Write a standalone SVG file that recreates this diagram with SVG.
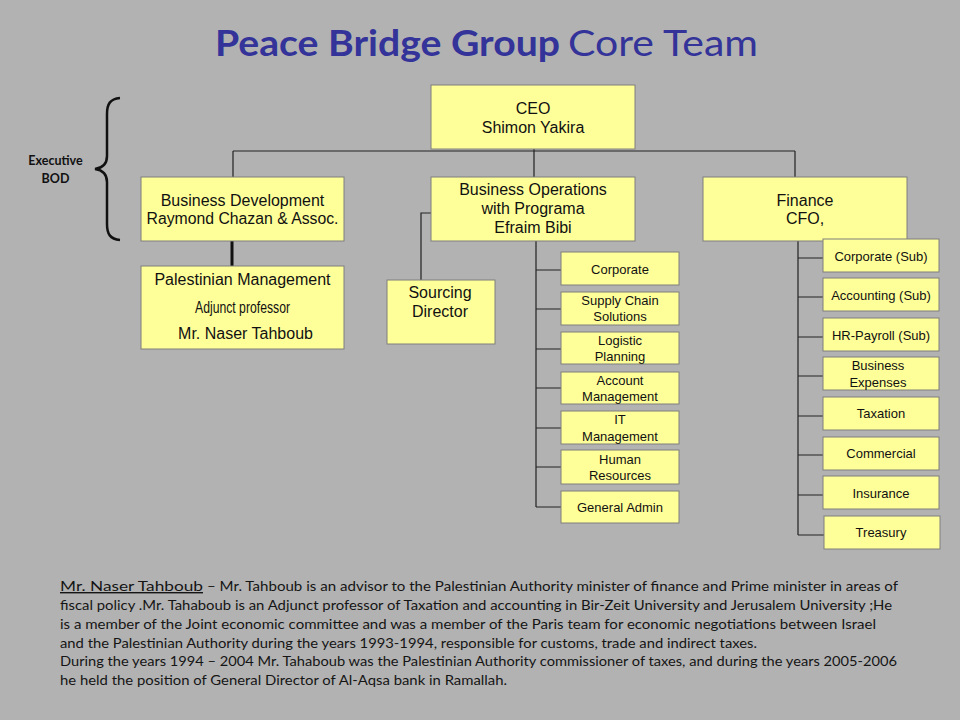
<svg xmlns="http://www.w3.org/2000/svg" width="960" height="720" viewBox="0 0 960 720">
<style>
.bg{fill:#B2B2B2}
.box{fill:#FFFF99;stroke:#7F7F7F;stroke-width:1}
.lbl{font-family:"Liberation Sans",Arial,sans-serif;font-size:16px;fill:#111;text-anchor:middle}
.sm{font-family:"Liberation Sans",Arial,sans-serif;font-size:13px;fill:#111;text-anchor:middle}
.con{fill:none;stroke:#222;stroke-width:1.2}
.title{font-family:Lato,"Open Sans",sans-serif;font-size:37px;fill:#333399}
.body{font-family:Lato,"Open Sans",sans-serif;font-size:14px;fill:#151515}
</style>
<rect class="bg" x="0" y="0" width="960" height="720"/>

<g id="title">
<text class="title" x="215" y="56" font-weight="bold" textLength="345" lengthAdjust="spacingAndGlyphs">Peace Bridge Group</text>
<text class="title" x="568" y="56" textLength="190" lengthAdjust="spacingAndGlyphs">Core Team</text>
</g>

<g id="brace">
<path d="M120,98 C110,99 107,104 107,114 L107,156 C107,164 102,168 95,169 C102,170 107,174 107,182 L107,224 C107,234 110,239 120,240" fill="none" stroke="#111" stroke-width="2.5"/>
<text font-family="Lato,'Open Sans',sans-serif" font-size="12.5" font-weight="bold" fill="#111" text-anchor="middle" x="55.5" y="165">Executive</text>
<text font-family="Lato,'Open Sans',sans-serif" font-size="12.5" font-weight="bold" fill="#111" text-anchor="middle" x="55.5" y="183">BOD</text>
</g>

<g id="connectors">
<path class="con" d="M233,151 H795 M233,151 V177 M795,151 V177 M534,149 V177"/>
<path d="M232,241 V266" fill="none" stroke="#111" stroke-width="3"/>
<path class="con" d="M431,213 H421 V280"/>
<path class="con" d="M536,241 V507 M536,270 H561 M536,309 H561 M536,349 H561 M536,388 H561 M536,428 H561 M536,467 H561 M536,507 H561"/>
<path class="con" d="M798,241 V535 M798,258 H823 M798,297 H823 M798,337 H823 M798,376 H823 M798,416 H823 M798,455 H823 M798,495 H823 M798,535 H824"/>
</g>

<g id="ceo">
<rect class="box" x="431" y="85" width="204" height="64"/>
<text class="lbl" x="533" y="114">CEO</text>
<text class="lbl" x="533" y="133">Shimon Yakira</text>
</g>

<g id="bizdev">
<rect class="box" x="141" y="177" width="203" height="64"/>
<text class="lbl" x="242.5" y="206">Business Development</text>
<text class="lbl" x="242.5" y="224" textLength="192" lengthAdjust="spacingAndGlyphs">Raymond Chazan &amp; Assoc.</text>
</g>

<g id="palmgmt">
<rect class="box" x="141" y="266" width="203" height="83"/>
<text class="lbl" x="242.5" y="285">Palestinian Management</text>
<text class="lbl" x="242.5" y="313" font-size="11.5" textLength="95" lengthAdjust="spacingAndGlyphs">Adjunct professor</text>
<text class="lbl" x="245.5" y="339">Mr. Naser Tahboub</text>
</g>

<g id="bizops">
<rect class="box" x="431" y="177" width="204" height="64"/>
<text class="lbl" x="533" y="195">Business Operations</text>
<text class="lbl" x="533" y="214">with Programa</text>
<text class="lbl" x="533" y="233">Efraim Bibi</text>
</g>

<g id="finance">
<rect class="box" x="703" y="177" width="204" height="64"/>
<text class="lbl" x="805" y="206">Finance</text>
<text class="lbl" x="805" y="224">CFO,</text>
</g>

<g id="sourcing">
<rect class="box" x="387" y="280" width="108" height="64"/>
<text class="lbl" x="440" y="298">Sourcing</text>
<text class="lbl" x="440" y="317">Director</text>
</g>

<g id="ops-corporate"><rect class="box" x="561" y="252" width="118" height="33"/><text class="sm" x="620" y="273.5">Corporate</text></g>
<g id="ops-supply"><rect class="box" x="561" y="292" width="118" height="33"/><text class="sm" x="620" y="304.5">Supply Chain</text><text class="sm" x="620" y="321">Solutions</text></g>
<g id="ops-logistic"><rect class="box" x="561" y="332" width="118" height="32"/><text class="sm" x="620" y="344.5">Logistic</text><text class="sm" x="620" y="361">Planning</text></g>
<g id="ops-account"><rect class="box" x="561" y="372" width="118" height="32"/><text class="sm" x="620" y="384.5">Account</text><text class="sm" x="620" y="401">Management</text></g>
<g id="ops-it"><rect class="box" x="561" y="411" width="118" height="33"/><text class="sm" x="620" y="424">IT</text><text class="sm" x="620" y="440.5">Management</text></g>
<g id="ops-hr"><rect class="box" x="561" y="450" width="118" height="34"/><text class="sm" x="620" y="463.5">Human</text><text class="sm" x="620" y="480">Resources</text></g>
<g id="ops-admin"><rect class="box" x="561" y="491" width="118" height="32"/><text class="sm" x="620" y="512">General  Admin</text></g>

<g id="fin-corporate"><rect class="box" x="823" y="239" width="116" height="33"/><text class="sm" x="881" y="260.5">Corporate (Sub)</text></g>
<g id="fin-accounting"><rect class="box" x="823" y="278" width="116" height="33"/><text class="sm" x="881" y="299.5">Accounting (Sub)</text></g>
<g id="fin-hr"><rect class="box" x="823" y="318" width="116" height="33"/><text class="sm" x="881" y="339.5">HR-Payroll (Sub)</text></g>
<g id="fin-expenses"><rect class="box" x="823" y="357" width="116" height="33"/><text class="sm" x="878" y="370">Business</text><text class="sm" x="878" y="386.5">Expenses</text></g>
<g id="fin-taxation"><rect class="box" x="823" y="397" width="116" height="33"/><text class="sm" x="881" y="418">Taxation</text></g>
<g id="fin-commercial"><rect class="box" x="823" y="437" width="116" height="33"/><text class="sm" x="881" y="458">Commercial</text></g>
<g id="fin-insurance"><rect class="box" x="823" y="476" width="116" height="33"/><text class="sm" x="881" y="497.5">Insurance</text></g>
<g id="fin-treasury"><rect class="box" x="824" y="516" width="116" height="33"/><text class="sm" x="881" y="537">Treasury</text></g>

<g id="bio">
<text class="body" x="60" y="591" font-size="16" text-decoration="underline" textLength="143" lengthAdjust="spacingAndGlyphs">Mr. Naser Tahboub</text>
<text class="body" x="207" y="591" textLength="691" lengthAdjust="spacingAndGlyphs">– Mr. Tahboub is an advisor to the Palestinian Authority  minister of finance and Prime minister in areas  of</text>
<text class="body" x="60" y="610" textLength="832" lengthAdjust="spacingAndGlyphs">fiscal policy .Mr. Tahaboub is an Adjunct professor of Taxation and accounting in Bir-Zeit University and Jerusalem University ;He</text>
<text class="body" x="60" y="629" textLength="816" lengthAdjust="spacingAndGlyphs">is a member of the Joint economic committee and was a member of the Paris team for economic negotiations between  Israel</text>
<text class="body" x="60" y="648" textLength="697" lengthAdjust="spacingAndGlyphs">and the Palestinian Authority  during the years 1993-1994, responsible for customs, trade and indirect taxes.</text>
<text class="body" x="60" y="666" textLength="837" lengthAdjust="spacingAndGlyphs">During the years 1994 – 2004 Mr. Tahaboub was the Palestinian Authority  commissioner of taxes, and during the years 2005-2006</text>
<text class="body" x="60" y="685" textLength="447" lengthAdjust="spacingAndGlyphs">he held the position  of General Director of Al-Aqsa bank in Ramallah.</text>
</g>
</svg>
